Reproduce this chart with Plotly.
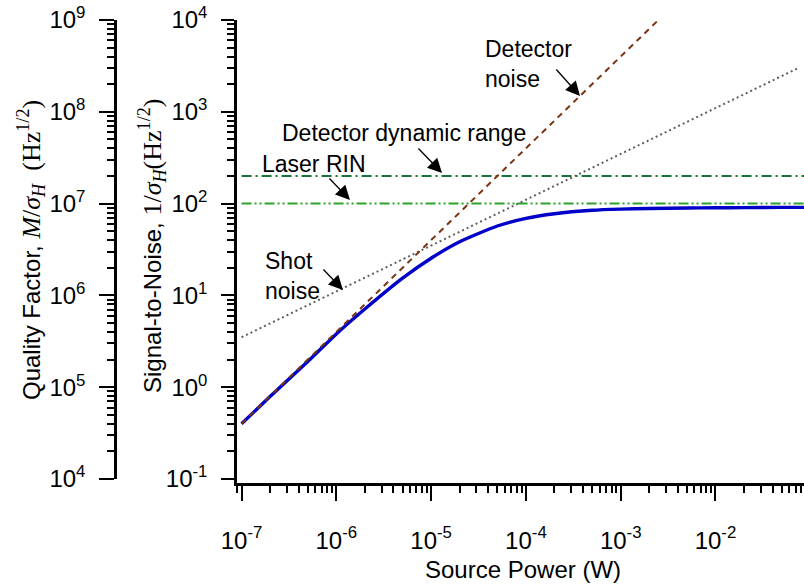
import plotly.graph_objects as go

# ---------------- data ----------------
power_W = [1e-7, 2e-7, 5e-7, 1e-6, 2e-6, 5e-6, 1e-5, 2e-5, 5e-5, 1e-4,
           2e-4, 5e-4, 1e-3, 2e-3, 5e-3, 1e-2, 2e-2, 5e-2, 1e-1]
snr_total = [0.40, 0.79, 1.9, 3.8, 7.1, 15.4, 25.4, 38.4, 57, 69,
             77.5, 84.5, 87, 88.5, 89.5, 90, 90.5, 91, 91]

det_noise_x = [1e-7, 2.5e-3]
det_noise_y = [0.4, 1e4]
shot_noise_x = [1e-7, 7.5e-2]
shot_noise_y = [3.5, 3000]
laser_rin_x = [1e-7, 1e-1]
laser_rin_y = [100, 100]
dyn_range_x = [1e-7, 1e-1]
dyn_range_y = [200, 200]

x_tickvals = [1e-7, 1e-6, 1e-5, 1e-4, 1e-3, 1e-2]
x_ticktext = ["10<sup>-7</sup>", "10<sup>-6</sup>", "10<sup>-5</sup>",
              "10<sup>-4</sup>", "10<sup>-3</sup>", "10<sup>-2</sup>"]
y_tickvals = [1e-1, 1e0, 1e1, 1e2, 1e3, 1e4]
y_ticktext = ["10<sup>-1</sup>", "10<sup>0</sup>", "10<sup>1</sup>",
              "10<sup>2</sup>", "10<sup>3</sup>", "10<sup>4</sup>"]
q_tickvals = [1e4, 1e5, 1e6, 1e7, 1e8, 1e9]
q_ticktext = ["10<sup>4</sup>", "10<sup>5</sup>", "10<sup>6</sup>",
              "10<sup>7</sup>", "10<sup>8</sup>", "10<sup>9</sup>"]

# ---------------- layout geometry (pixels) ----------------
W, H = 804, 584
PL, PR, PT, PB = 237, 804, 20, 483   # main plot area


def px(x):
    return x / W


def py(y):
    return (PB - y) / (PB - PT)


SANS = "Liberation Sans, Arial, sans-serif"

fig = go.Figure()

fig.add_trace(go.Scatter(x=power_W, y=snr_total, mode="lines",
                         line=dict(color="#0000C8", width=3.4, shape="spline", smoothing=0.6),
                         showlegend=False, hoverinfo="skip"))
fig.add_trace(go.Scatter(x=dyn_range_x, y=dyn_range_y, mode="lines",
                         line=dict(color="#17753A", width=2, dash="10px,4px,2px,4px"),
                         showlegend=False, hoverinfo="skip"))
fig.add_trace(go.Scatter(x=laser_rin_x, y=laser_rin_y, mode="lines",
                         line=dict(color="#2AA52A", width=2, dash="10px,3px,2px,3px,2px,3px"),
                         showlegend=False, hoverinfo="skip"))
fig.add_trace(go.Scatter(x=shot_noise_x, y=shot_noise_y, mode="lines",
                         line=dict(color="#606060", width=2, dash="2px,3px"),
                         showlegend=False, hoverinfo="skip"))
fig.add_trace(go.Scatter(x=det_noise_x, y=det_noise_y, mode="lines",
                         line=dict(color="#7A3412", width=2, dash="6px,5px"),
                         showlegend=False, hoverinfo="skip"))
# carrier trace for the quality-factor axis
fig.add_trace(go.Scatter(x=[], y=[], xaxis="x", yaxis="y2", showlegend=False,
                         hoverinfo="skip"))

axis_common = dict(type="log", showgrid=False, zeroline=False, showline=True,
                   linecolor="black", linewidth=2.5, ticks="outside",
                   tickcolor="black", tickwidth=2, tickmode="array",
                   tickfont=dict(family=SANS, size=24, color="black"),
                   minor=dict(ticks="outside", ticklen=7, tickwidth=1.6,
                              tickcolor="black", dtick="D1", showgrid=False))

fig.update_layout(
    width=W, height=H,
    margin=dict(l=0, r=0, t=PT, b=H - PB, pad=0),
    paper_bgcolor="white", plot_bgcolor="rgba(0,0,0,0)",
    template="none",
    showlegend=False,
    xaxis=dict(axis_common, domain=[PL / W, 1], anchor="y",
               range=[-7.048, -1.066], tickvals=x_tickvals, ticktext=x_ticktext,
               ticklen=15, ticklabelstandoff=19),
    yaxis=dict(axis_common, anchor="x", range=[-1.0436, 4.0],
               tickvals=y_tickvals, ticktext=y_ticktext, ticklen=13,
               ticklabelstandoff=9),
    yaxis2=dict(axis_common, anchor="free", position=px(115), side="left",
                domain=[4 / (PB - PT), 1], range=[4, 9],
                tickvals=q_tickvals, ticktext=q_ticktext, ticklen=15,
                ticklabelstandoff=9),
)

text_font = dict(family=SANS, size=23, color="black")
title_font = dict(family=SANS, size=24, color="black")
SERIF_SPAN = "<span style=\"font-family:Liberation Serif;font-size:26px\">"

# axis titles
fig.add_annotation(text="Source Power (W)", xref="paper", yref="paper",
                   x=px(523), y=py(569), xanchor="center", yanchor="middle",
                   showarrow=False, font=title_font)
fig.add_annotation(
    text=("Signal-to-Noise, " + SERIF_SPAN + "1/"
          "<i>σ</i><sub><i>H</i></sub>(Hz<sup>1/2</sup>)</span>"),
    xref="paper", yref="paper", x=px(152), y=py(246), textangle=-90,
    xanchor="center", yanchor="middle", showarrow=False, font=title_font)
fig.add_annotation(
    text=("Quality Factor, " + SERIF_SPAN + "<i>M</i>/"
          "<i>σ</i><sub><i>H</i></sub>  (Hz<sup>1/2</sup>)</span>"),
    xref="paper", yref="paper", x=px(31), y=py(250), textangle=-90,
    xanchor="center", yanchor="middle", showarrow=False, font=title_font)

# curve labels
labels = [
    ("Detector<br>noise", 483, 64),
    ("Detector dynamic range", 280, 133),
    ("Laser RIN", 260, 164),
    ("Shot<br>noise", 263, 276),
]
for txt, lx, ly in labels:
    fig.add_annotation(text=txt, xref="paper", yref="paper", x=px(lx), y=py(ly),
                       xanchor="left", yanchor="middle", align="left",
                       showarrow=False, font=text_font)

# arrows: (head x, head y, tail x, tail y) in pixels
arrows = [
    (580, 96, 555, 68),
    (442, 173, 417, 147),
    (350, 200, 328, 177),
    (343, 290, 322, 268),
]
for hx, hy, tx, ty in arrows:
    fig.add_annotation(text="", xref="paper", yref="paper", x=px(hx), y=py(hy),
                       ax=tx - hx, ay=ty - hy, showarrow=True, arrowhead=2,
                       arrowsize=2.2, arrowwidth=1.3, arrowcolor="black",
                       standoff=0, startstandoff=0)

fig.write_html("out.html", config={"displayModeBar": False},
               post_script="document.body.style.margin='0';document.body.style.padding='0';")
